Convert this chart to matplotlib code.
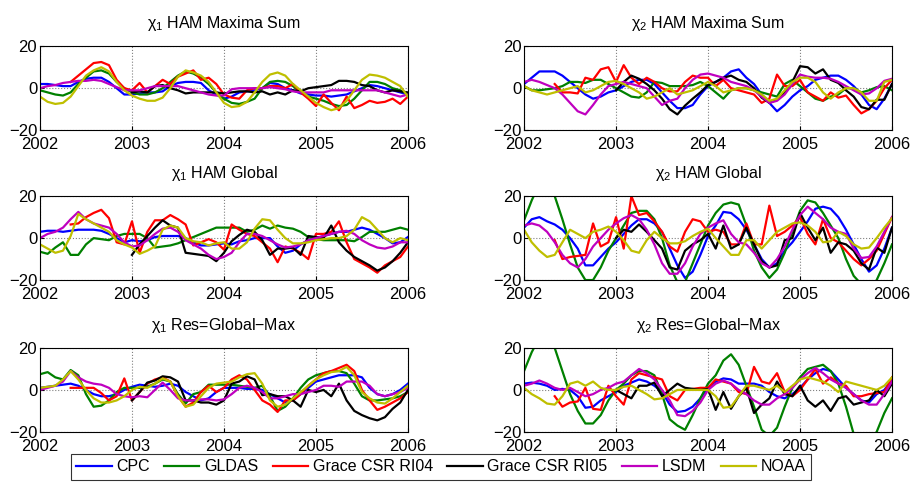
import numpy as np
import matplotlib.pyplot as plt

plt.rcParams['font.family'] = ['Liberation Sans', 'DejaVu Sans']
plt.rcParams['mathtext.fontset'] = 'custom'
plt.rcParams['mathtext.rm'] = 'Liberation Sans'
plt.rcParams['mathtext.it'] = 'Liberation Sans'

nan = np.nan
months = np.arange(49)
years = 2002 + months / 12.0

series_names = ['CPC', 'GLDAS', 'Grace CSR RI04', 'Grace CSR RI05', 'LSDM', 'NOAA']
colors = ['#0000ff', '#008000', '#ff0000', '#000000', '#bf00bf', '#bfbf00']

titles = [r'$\chi_1$ HAM Maxima Sum', r'$\chi_2$ HAM Maxima Sum',
          r'$\chi_1$ HAM Global', r'$\chi_2$ HAM Global',
          r'$\chi_1$ Res=Global$-$Max', r'$\chi_2$ Res=Global$-$Max']

# chi1 HAM Maxima Sum
p1_cpc = [2, 2, 1.5, 1, 1, 3, 4.5, 5, 5, 3, 0, -3, -3, -2.5, -2, -2, -1.5, 1, 2.5, 3, 3, 2.5, -1, -3, -5,
          -4, -2, -1.5, -1, 0, 2.5, 2, 0, -1, -2.5, -3, -3.5, -3.5, -4, -3.5, -3, -1.5, 0, 1.5, 1, 0, -1, -2, -3]
p1_gldas = [-1, -2, -3, -3.5, -2, 2, 5, 8, 8.5, 7, 3, 0, -2, -3, -3, -2, 0, 3, 6, 8, 7, 5, 2, -2, -5,
            -7, -7.5, -6.5, -5, 0, 3, 3.5, 3, 1, -2, -4, -5, -6, -7.5, -8.5, -8, -5, -1, 3, 3, 2, 0, -1, -3]
p1_rl04 = [nan, nan, nan, nan, 3, 6, 9, 12, 12.5, 11, 4, 0, -1, 2.5, -2, 1, 4, 2, 5.5, 7, 8.5, 4, 5, 2, -3,
           -4.5, -5, -1, 0, 0, 1, 1, 0, 2, -2, -5, -8.5, -3, -7, -10.5, -4, -9.5, -8, -6, -7, -6.5, -5, -7.5, -4]
p1_rl05 = [nan] * 12 + [-2, -1.5, -2, 1, 1.5, 0, -1, -2.5, -2, -2, -2, -2, -2.5,
                        -2, -1.5, -1.5, -2, -1.5, -3, -2, -3, -1, -1.5, 0, 0.5, 1, 1.5, 3.5, 3.5, 3, 1.5, 1, -1, -2, -1, -1.5, -2]
p1_lsdm = [0, 1, 1.5, 2.5, 3, 3.5, 3.5, 4, 3.5, 2, 0.5, -1, -1, -1, 0, 1, 1, 1, 1, 0, -1, -2, -3, -3.5, -3.5,
           -0.5, 0, 0, 0, 0, 0.5, 0, -0.5, -1.5, -2, -2, -2, -2, -1, -1, -1, -1, -1, -1, -1, -2, -3, -4, -3]
p1_noaa = [-4, -6.5, -7.5, -7, -4, 1, 6, 8.5, 10, 8, 3, -1, -3.5, -5, -6, -6, -4.5, 0, 5.5, 8.5, 7.5, 6, 3, -2, -7,
           -9, -8.5, -6.5, -2, 3, 6.5, 7.5, 6, 2, -1, -4, -7, -9, -10.5, -9.5, -6, -1, 4, 6.5, 6, 5, 3, 1, -4]

# chi2 HAM Maxima Sum
p2_cpc = [2, 5, 8, 8, 8, 6, 3, 0, -3, -5, -4, -2, -1, 1, 3, 4, 4, 2, -2, -6, -9.5, -9.5, -8, -3, 1,
          3, 5, 8, 9, 5, 2, -3, -7, -11, -8, -4, -1, 1, 4, 5, 6, 6, 4, 1, -3, -8, -10, -5, 2]
p2_gldas = [1, -1, -1, -0.5, 0, 1, 3, 3, 2.5, 4, 4, 2, 0, -2, -4, -4.5, -2, 3, 2.5, 1, 1, 1, 1.5, 3, 1,
            -2, -5, -1, 0, 0, -1, -2, -3, -4, 2, 4, 1, -2, -5, -6, -4, -3, 0, 0, -2, -1, 0.5, 1, -1]
p2_rl04 = [nan, nan, nan, nan, 2, -2, -2, -2.5, 5, 4, 9, 10, 3, 11, 5, 2, 5, 3, 0, -1.5, -1.5, 3, 6, 5, 5,
           1, 4, 0, -1, -2, -3, -7, -5, 6.5, 1, 1, 4, -2, -4, -6, -2, -4.5, -3.5, -8, -12, -10, -6, 0, 4]
p2_rl05 = [nan] * 12 + [-1, 3, 6, 4.5, 2, -1, -5, -10, -12.5, -8.3, -5, -2, 1.5,
                        3, 5, 6, 4, 3, 0, -4.5, -7, -5.5, -2, 3, 10.5, 10, 7, 9, 4, 2.5, -1, -4, -9, -10, -5.5, -5.5, 2]
p2_lsdm = [3, 4, 3, 1.5, 0, -3, -7, -11, -12.5, -8, -3, 1, 2, 3, 2, 1, 0, -4, -8, -6, -5, 0, 4, 6.5, 7,
           6, 5, 3, 2, 1, -1, -4, -7, -6, -3, 2, 6.5, 5.5, 5, 5, 4.5, 3, 1, -1, -3, -2.5, 0, 3.5, 4.5]
p2_noaa = [1, -1, -2, -3, -2, -1, 0, 1, -2, -1, 1, 3, 3.5, 2, 0, -2, -5, -4, -2, 0, -3, -2, -1, 1, 3,
           1, -2, -1, 0, 0, -1, -3, -6, -5, -1, 3, 5, 5, 3, -2, -5, -2, 0, 0, -2, -6, -6, 3, 4]

# chi1 HAM Global
p3_cpc = [3, 3.5, 3.5, 3, 3.5, 4, 4, 4, 3.5, 2, 0, -2, -1, -1.5, -1, 0.5, 1, 1, 1, 0, -2, -3.5, -3.5, -3, -2.5,
          -3, -1.5, -1, 0, 0, 0, -4, -7, -6, -3, -1, 0, 1, 2, 3, 3, 4, 5, 4, 2, 0, -2.5, -2, 0.5]
p3_gldas = [-6.5, -7.5, -4.5, -2, -8, -8, -3, 0, -0.5, -1, 1, 2, 2, 2, 0, -4.5, -4, -3.5, -2.5, -1, 0.5, 2, 3.5, 5, 5,
            5, 5, 3, 4, 6, 4.5, 6, 5, 4.5, 3, 0.5, -0.5, -1, -1, -1, -1, -1.5, 0.5, 3, 3, 3, 4, 5, 4]
p3_rl04 = [nan, nan, nan, nan, 6.5, 7, 10, 12, 13.5, 9.5, -2, -3, 8, -7, 3, 8.5, 8.5, 11, 9, 6.5, -3.5, -2, -0.5, -2, -5.5,
           6.5, 4, 2, 1, -2, -5, -11.5, -4, -5, -7, -10, 2, 2, 3, 8, -2, -10, -12, -14, -16.5, -13, -11, -9, -4]
p3_rl05 = [nan] * 12 + [-8, -3, 1, 5, 8.5, 6, 5, -7, -7.5, -8, -8.5, -11, -7,
                        -1.5, 1.5, 4, 3, -1, -8, -5, -5, -4.5, -8, 1, 0.5, 0, 6, -2, -6, -9, -11, -13, -15.5, -14, -11, -7, -2]
p3_lsdm = [0, 2, 3, 5, 9, 12.5, 9, 7, 6, 5, 2, -2, -4, -3.5, -1, 2, 4.5, 5, 3, -1, -3, -5, -8, -10, -9,
           -7, -2, 2, 2, 1, -1, -3, -4.5, -4, -3, -1, 0, 1, 2, 3, 3.5, 2, -1, -3, -4.5, -5, -4, -2, -2]
p3_noaa = [-3, -5, -7, -6, 1, 11.5, 9, 7, 5, 3, -1, -3, -4.5, -7.5, -6, -4, 4, 6, 5, 0, -1.5, -2, -3.5, -2.5, -2,
           -5, -5, -2, 4.5, 9, 8.5, 4, 0, -2.5, -2.5, -2, -1, -0.5, 0, 0, 1, 4, 10, 8, 4, 0, -2, 0, -1]

# chi2 HAM Global
p4_cpc = [5, 9, 10, 8, 6.5, 4, 0, -5, -13, -13, -9, -5, -2, 2, 6, 9, 9, 7, 3, -5, -13, -19, -16, -8, 1,
          6, 12.5, 12, 9, 4, -3, -10, -14, -12, -6, -2, 3, 8, 14, 15, 14, 10, 4, -3, -10, -16, -13, -5, 5]
p4_gldas = [8.5, 18, 26, 27, 20, 9, -3, -14, -20, -20, -14, -6, 0, 6, 12, 13, 13, 9, 0, -13, -21, -21, -12, -3, 6,
            12, 16, 17, 16, 6, -6, -14, -19, -15, -7, 3, 13, 18, 17, 12, 6, 0, -10, -18, -22, -25, -20, -12, -3]
p4_rl04 = [nan, nan, nan, nan, -1, -10, -9, -8.5, -8, 7, -4, -2, 10, -5, 20, 11, 12, 8, 3, -4, -6.5, 3, 9, 8, 3,
           4, 3, -3, -3, 7, -3, -3, 15.5, 1, 3, 6, 10, 2, -3, 9, 0, -2, -6, -10, -13, -10, -6, 2, 10]
p4_rl05 = [nan] * 12 + [0, 4, 3, 6.5, 3, -1, -5, -14, -15, -6, -3, -1, 2,
                        -5, 6, -5, -3, 5, -3, -11, -14, -13, -1, 0, 12, 5, -1, 5, -7, -2, -3, -6, -12, -15, -4.5, -7, 5]
p4_lsdm = [6, 7, 6, 3, -2, -8, -12, -14, -10, -4, 0, 4, 7, 9.5, 11, 9, 4, -3, -12, -17, -17, -12, -4, 2, 5,
           7, 8.5, 2, -2, -3, -7, -12, -14, -10, -4, 4, 11, 15, 12, 9, 5, 3, 2, -5, -9.5, -9, -4, 3, 10]
p4_noaa = [4, -2, -6, -9, -8, -2, 4, 2, 0, 3, 4, 5.5, 3, -1, -6, -7, -1, 3, 0, -2.5, -2.5, -1.5, 1, 3, 4.5,
           0, -4, -8, -8, -1, -1, -5, -1, 3, 5, 7, 7.5, 6, 3, -2, -1.5, 3, 1, -3, -5, -4.5, 0, 5, 9.5]

# chi1 Res = Global - Max
p5_cpc = [1, 1.5, 2, 2.5, 3, 2, 0, -2, -3, -3, -2, 0, 1.5, 2.5, 2, 1.5, 2, 3, 2, -1, -3, -5, -4, -1, 1,
          1, 1, 0.5, 0.5, 0, -2, -4, -6, -5, -2, 1, 4, 5, 6, 7, 7, 7, 6, 1, -2, -3, -2, 0, 3]
p5_gldas = [7.5, 8.5, 6, 5, 9.5, 7, -2, -8, -7.5, -5, -1, 1, 1, 1, 1.5, 3, 5, 4, -2, -6.5, -2, -1, 2.5, 2.5, 2.5,
            2.5, 2, 1.5, 1, 2, -3, -10, -8, -4, 1, 5, 7, 8, 9, 9, 8, 3, -3, -5, -5, -4.5, -4, -3, -1]
p5_rl04 = [nan, nan, nan, nan, 1, 1, 1, 1, -1.5, -5, -3, 5.5, -5, -1, 3, 5, 6, 4, -3, -8, -6, -1, 2, -1, 1,
           5, 7, 5, 0, -5, -7, -10.5, -5, -5, -2, 2, 5, 8, 9, 10.5, 12, 9, 0, -5, -9.5, -8, -6, -4, -1]
p5_rl05 = [nan] * 12 + [-5, -1, 3.5, 4.5, 6.5, 6, 4, -5, -5, -6, -6, -7, -5,
                        3, 4, 6.5, 5, -2.5, -2, -3, -3, -5, -8, 0, -1, 0, -3, 3, -5, -10, -12, -13.5, -14.5, -13, -9, -6, 0]
p5_lsdm = [0, 1, 2, 4, 9, 6, 4, 3, 2.5, 1, -2, -3, -3.5, -3, -3.5, 0, 3.5, 0, -4, -5, -5, -4.5, -4.5, -5, -4.5,
           -2, 1, 2, 1, -1, -4, -4, -3, -2, -2, -1, 0, 2, 2, 1.5, 4, 4, 4, 2, -2, -3, -2, -1, 1]
p5_noaa = [1, 1.5, 2, 5, 9, 5, 0, -4, -6, -6, -5, -3, 0, 1.5, 1, 3, 5.5, 4, -3, -8, -7, -3, 1, 3, 3.5,
           4, 6, 7.5, 8, 3, -5, -8, -7, -4, -1, 2, 5, 7, 8.5, 9, 11, 7, -1, -4, -6, -6.5, -4, -1, 2]

# chi2 Res = Global - Max
p6_cpc = [3, 3.5, 3, 2, 0, 0.5, 0, -3, -8.5, -8, -5, -3, -1, 2, 3.5, 5, 4, 2, -1, -7, -10.5, -10, -8, -4, 1,
          4, 5.5, 5, 3, 3, 3, 2, -1, -3, -4, -2, 1, 5, 8, 10, 9, 5, 1, -2, -5, -6, -2, 0, 5]
p6_gldas = [9, 18, 25, 27, 20, 9, -2, -10, -16, -16, -12, -5, 0, 3, 7, 9, 9, 7, -2, -14, -17, -19, -12, -4, 3,
            7, 14, 17, 12, 2, -8, -19, -22, -18, -8, 1, 6, 10, 11, 12, 9, 3, -8, -21, -26, -25, -20, -11, -4]
p6_rl04 = [nan, nan, nan, nan, -3, -8, -6, -5.5, 1, -9, -9.5, 2, -3, -7, 5, 8, 7, 6, 5, -3, -5, 0, 0.5, 1, 1,
           5, 4, 3, -1, -2, 11, 4, 3, 8, -1, -3, 0, 5, 10, 3, 6, 3, 2, -3, -3, -2, -1.5, -1, 6]
p6_rl05 = [nan] * 12 + [0, -2, -4, 2, 2, 3.5, -3, 0, 3, 1, 0.5, 0, 0.5,
                        -9.5, -1, -9, -3, 1, -11, -7, -4, 4, -2, -3, 2, -5, -8, -5, -10, -4, -3, -7, -6, -5, 0, -3, 3]
p6_lsdm = [2, 3, 4.5, 3, 1, 0, 1, -1, -3, -2, 0, 1, 3, 4, 7, 10, 8, 5, 0, -5, -12, -12.5, -10, -6, 0,
           3, 4.5, 3, 0, -2, -5, -7, -7, -4, -2, 1, 5, 8, 10.5, 8, 5, 3, 1, -2, -5, -7, -7, -2, 4]
p6_noaa = [1, -2, -4, -6.5, -7, -3, 3, 4, 2, 4, 1, 0, 0, 1.5, 2, 0, -2, -4.5, -4, -2, 0, 0, 0, 0, 0,
           -3, -8.5, -8, -3, 2, 2, 1, 0, 2, -1, 2, 5, 6, 5, 4, 2, -1, 4, 3, 2, 1, 0, 2, 6]

panels = [
    [p1_cpc, p1_gldas, p1_rl04, p1_rl05, p1_lsdm, p1_noaa],
    [p2_cpc, p2_gldas, p2_rl04, p2_rl05, p2_lsdm, p2_noaa],
    [p3_cpc, p3_gldas, p3_rl04, p3_rl05, p3_lsdm, p3_noaa],
    [p4_cpc, p4_gldas, p4_rl04, p4_rl05, p4_lsdm, p4_noaa],
    [p5_cpc, p5_gldas, p5_rl04, p5_rl05, p5_lsdm, p5_noaa],
    [p6_cpc, p6_gldas, p6_rl04, p6_rl05, p6_lsdm, p6_noaa],
]

fig = plt.figure(figsize=(9.13, 4.82), dpi=100)

lefts = [0.0438, 0.574]
bottoms = [0.730, 0.419, 0.104]
w, h = 0.403, 0.174

lines = []
for i, data in enumerate(panels):
    ax = fig.add_axes([lefts[i % 2], bottoms[i // 2], w, h])
    for j, vals in enumerate(data):
        ln, = ax.plot(years, np.array(vals, dtype=float), color=colors[j], lw=1.6,
                      label=series_names[j])
        if i == 0:
            lines.append(ln)
    ax.set_xlim(2002, 2006)
    ax.set_ylim(-20, 20)
    ax.set_xticks([2002, 2003, 2004, 2005, 2006])
    ax.set_yticks([-20, 0, 20])
    ax.set_yticklabels(['\u221220', '0', '20'])
    ax.grid(True, linestyle=':', color='#808080', lw=0.8)
    ax.tick_params(direction='in', labelsize=12, length=3)
    ax.tick_params(axis='x', pad=5)
    ax.tick_params(axis='y', pad=2)
    for s in ax.spines.values():
        s.set_linewidth(0.8)
    ax.set_title(titles[i], fontsize=11.5, pad=13)

leg = fig.legend(lines, series_names, loc='lower center', ncol=6,
                 bbox_to_anchor=(0.483, -0.012), fontsize=11.5, frameon=True,
                 fancybox=False, edgecolor='black', handlelength=2.2,
                 handletextpad=0.3, columnspacing=0.9, borderpad=0.35)
leg.get_frame().set_linewidth(0.8)

fig.savefig('out.png', dpi=100)
